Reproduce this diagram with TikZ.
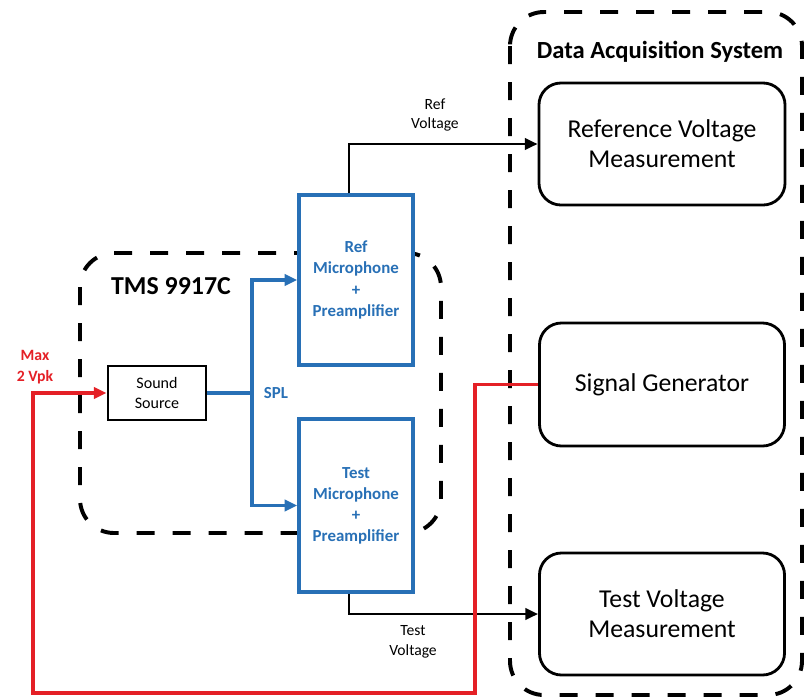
\documentclass[tikz,border=0pt]{standalone}
\usepackage{fontspec}
\setmainfont{Carlito}
\usepackage{xcolor}
\usepackage{tikz}
\usetikzlibrary{positioning,calc,arrows.meta}
\definecolor{micblue}{RGB}{40,112,182}
\definecolor{sigred}{RGB}{228,32,38}
\tikzset{
  group/.style     = {draw=black, line width=2.8pt, dash pattern=on 12.8pt off 12.8pt, rounded corners=0.85cm},
  grouphdr/.style  = {font=\fontsize{17.5}{20}\selectfont\bfseries, inner sep=0pt},
  srcbox/.style    = {draw=black, line width=2pt, fill=white, font=\fontsize{11.4}{14}\selectfont, align=center, inner sep=0pt},
  micbox/.style    = {draw=micblue, line width=2.4pt, fill=white, text=micblue, font=\fontsize{12}{15}\selectfont\bfseries, align=center, inner sep=0pt},
  meas/.style      = {draw=black, line width=2pt, fill=white, rounded corners=0.55cm, font=\fontsize{18.3}{21.5}\selectfont, align=center, inner sep=0pt},
  lbl/.style       = {font=\fontsize{11.1}{14}\selectfont, align=center, inner sep=0pt},
  splwire/.style   = {draw=micblue, line width=2.4pt, -{Triangle[length=9pt,width=8pt]}},
  sigwire/.style   = {draw=black, line width=2pt, -{Triangle[length=9pt,width=8pt]}},
  redwire/.style   = {draw=sigred, line width=2.6pt, -{Triangle[length=9pt,width=8pt]}},
}

\begin{document}
\begin{tikzpicture}[x=0.025cm,y=-0.025cm]
  \useasboundingbox (0,0) rectangle (808,699);

  % group outlines
  \draw[group] (80,253) rectangle (441,533);
  \draw[group] (510,12) rectangle (802,695);
  \node[grouphdr] (tmshdr) at (171,286) {\fontsize{18.4}{20}\selectfont TMS 9917C};
  \node[grouphdr] (daqhdr) at (660,52) {Data Acquisition System};

  % TMS side
  \node[srcbox, minimum width=2.45cm, minimum height=1.35cm] (src) at (157,393) {Sound\\Source};
  \node[micbox, minimum width=2.85cm, minimum height=4.25cm] (refmic) at (356,280) {Ref\\Microphone\\+\\Preamplifier};
  \node[micbox, minimum width=2.85cm, minimum height=4.33cm] (testmic) at (356,505.5) {Test\\Microphone\\+\\Preamplifier};

  % DAQ side
  \node[meas, minimum width=6.15cm, minimum height=3.05cm] (refmeas) at (662,144) {Reference Voltage\\Measurement};
  \node[meas, minimum width=6.125cm, minimum height=3.075cm] (siggen) at (662,384.5) {Signal Generator};
  \node[meas, minimum width=6.125cm, minimum height=3.05cm] (testmeas) at (662,614) {Test Voltage\\Measurement};

  % SPL split
  \coordinate (spl) at (252,393);
  \draw[micblue, line width=2.4pt] (src.east) -- (spl);
  \draw[splwire] (spl) |- (refmic.west);
  \draw[splwire] (spl) |- (testmic.west);
  \node[lbl, text=micblue, font=\fontsize{12}{14}\selectfont\bfseries] (spllbl) at (276,393) {SPL};

  % measured voltages
  \draw[sigwire] ([xshift=-5pt]refmic.north) |- (refmeas.west);
  \draw[sigwire] ([xshift=-5pt]testmic.south) |- (testmeas.west);
  \node[lbl] (reflbl) at (435,115) {Ref\\Voltage};
  \node[lbl] (testlbl) at (413,642) {Test\\Voltage};

  % drive signal
  \coordinate (lowR) at (475,693);
  \coordinate (lowL) at (33,693);
  \draw[redwire] (siggen.west) -| (lowR) -- (lowL) |- (src.west);
  \node[lbl, text=sigred, font=\fontsize{11.2}{14.5}\selectfont\bfseries] (drvlbl) at (35,367) {Max\\2 Vpk};
\end{tikzpicture}
\end{document}
